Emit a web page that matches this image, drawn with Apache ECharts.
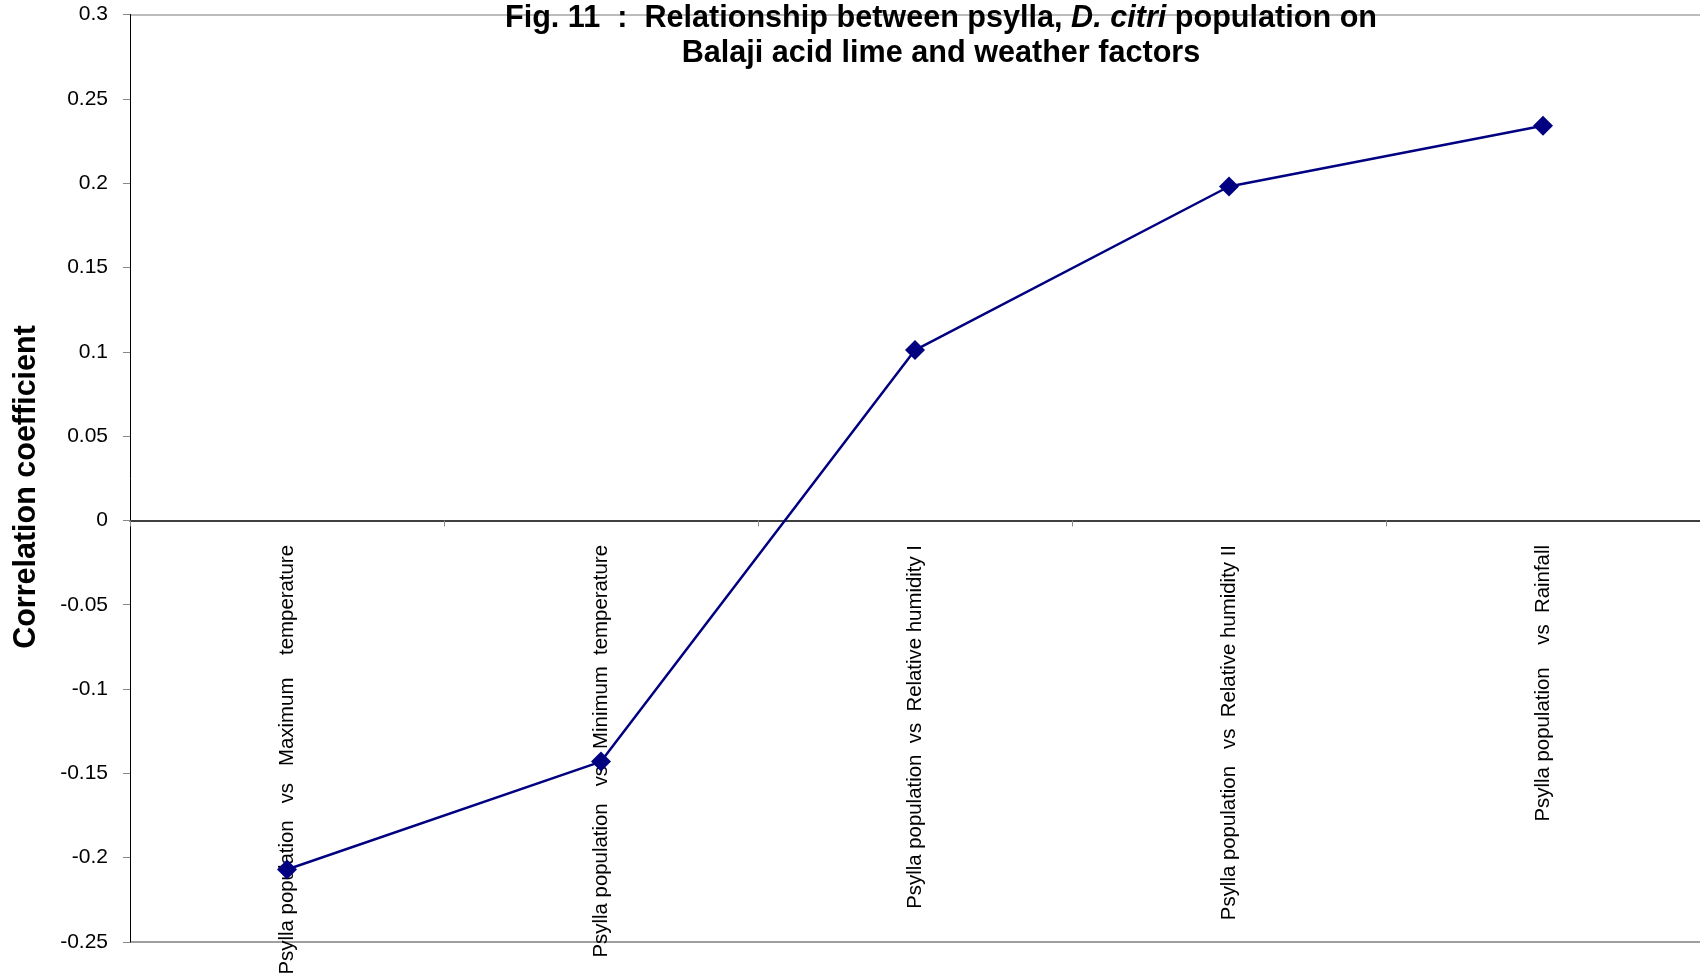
<!DOCTYPE html>
<html>
<head>
<meta charset="utf-8">
<script src="https://cdn.jsdelivr.net/npm/echarts@6/dist/echarts.min.js"></script>
<style>
html,body{margin:0;padding:0;background:#fff;}
#chart{width:1700px;height:979px;}
</style>
</head>
<body>
<div id="chart"></div>
<script>
const categories = [
  "Psylla population   vs   Maximum    temperature",
  "Psylla population   vs   Minimum  temperature",
  "Psylla population  vs  Relative humidity I",
  "Psylla population   vs  Relative humidity II",
  "Psylla population    vs  Rainfall"
];
const correlation = [-0.207, -0.143, 0.101, 0.198, 0.234];
const yMin = -0.25;
const yMax = 0.3;
const yStep = 0.05;
const titleLine1 = ["Fig. 11  :  Relationship between psylla, ", "D. citri", " population on"];
const titleLine2 = "Balaji acid lime and weather factors";
const yName = "Correlation coefficient";

const font = '"Liberation Sans", Arial, Helvetica, sans-serif';
const nTicks = Math.round((yMax - yMin) / yStep) + 1;
const splitColors = [];
for (let i = 0; i < nTicks; i++) {
  splitColors.push(i === 0 ? '#7f7f7f' : (i === nTicks - 1 ? '#a6a6a6' : 'rgba(0,0,0,0)'));
}

const chart = echarts.init(document.getElementById('chart'), null, {renderer: 'canvas'});
chart.setOption({
  backgroundColor: '#ffffff',
  animation: false,
  title: {
    text: '{b|' + titleLine1[0] + '}{i|' + titleLine1[1] + '}{b|' + titleLine1[2] + '}\n{b|' + titleLine2 + '}',
    left: 936,
    top: -4,
    textAlign: 'center',
    textStyle: {
      fontFamily: font,
      fontSize: 30.6,
      fontWeight: 'bold',
      color: '#000',
      lineHeight: 35,
      align: 'center',
      rich: {
        b: {fontFamily: font, fontSize: 30.6, fontWeight: 'bold', color: '#000', lineHeight: 35},
        i: {fontFamily: font, fontSize: 30.6, fontWeight: 'bold', fontStyle: 'italic', color: '#000', lineHeight: 35}
      }
    }
  },
  graphic: [{
    type: 'text',
    x: 27,
    y: 487,
    rotation: Math.PI / 2,
    style: {
      text: yName,
      fontFamily: font,
      fontSize: 30.5,
      fontWeight: 'bold',
      fill: '#000',
      align: 'center',
      verticalAlign: 'middle'
    }
  }],
  grid: {left: 130, right: 0, top: 14.5, bottom: 37, containLabel: false, outerBoundsMode: 'none'},
  xAxis: {
    type: 'category',
    data: categories,
    boundaryGap: true,
    axisLine: {show: true, onZero: true, lineStyle: {color: '#000', width: 1.5}},
    axisTick: {show: true, length: 6, alignWithLabel: false, lineStyle: {color: '#888', width: 1}},
    axisLabel: {
      interval: 0,
      rotate: 90,
      margin: -397,
      fontFamily: font,
      fontSize: 20.4,
      color: '#000'
    },
    splitLine: {show: false}
  },
  yAxis: {
    type: 'value',
    min: yMin,
    max: yMax,
    interval: yStep,
    axisLine: {show: true, lineStyle: {color: '#000', width: 1}},
    axisTick: {show: true, length: 7, lineStyle: {color: '#888', width: 1}},
    axisLabel: {
      margin: 22,
      fontFamily: font,
      fontSize: 21,
      color: '#000'
    },
    splitLine: {show: true, lineStyle: {color: splitColors, width: 1.5}}
  },
  series: [{
    type: 'line',
    data: correlation,
    symbol: 'diamond',
    symbolSize: 20,
    lineStyle: {color: '#000080', width: 2.5},
    itemStyle: {color: '#000080'},
    z: 5
  }]
});
</script>
</body>
</html>
